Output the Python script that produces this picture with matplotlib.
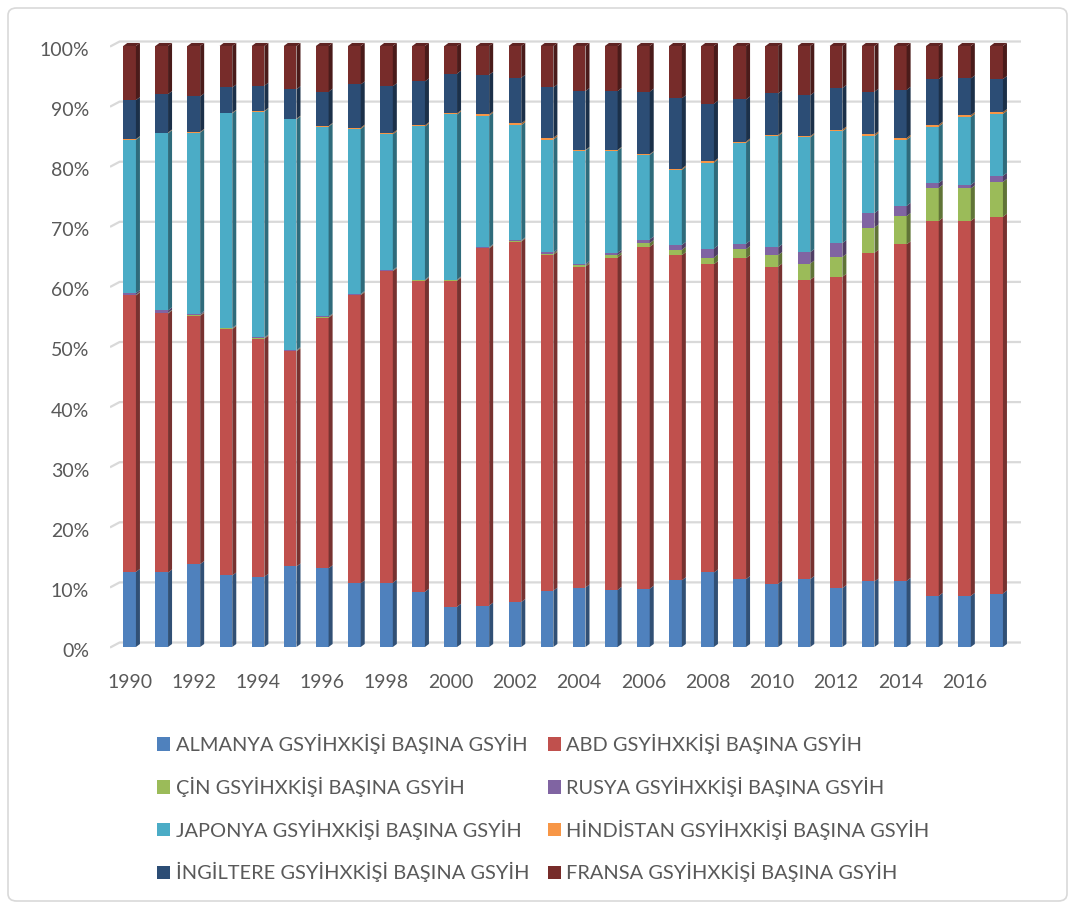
import matplotlib.pyplot as plt
import numpy as np
from matplotlib.patches import Polygon, Patch, FancyBboxPatch
from matplotlib.colors import to_rgb
from matplotlib.transforms import ScaledTranslation

plt.rcParams['font.family'] = ['Lato', 'DejaVu Sans']

years = list(range(1990, 2018))

almanya = [12.5, 12.4, 13.8, 11.9, 11.7, 13.4, 13.1, 10.6, 10.7, 9.2, 6.7, 6.9, 7.5, 9.4,
           9.9, 9.5, 9.7, 11.1, 12.4, 11.3, 10.5, 11.3, 9.8, 10.9, 11.0, 8.5, 8.5, 8.9]
abd = [46.0, 43.1, 41.3, 41.0, 39.6, 35.8, 41.7, 48.0, 51.9, 51.8, 54.3, 59.5, 60.1, 56.0,
       53.4, 55.3, 56.9, 54.1, 51.3, 53.4, 52.8, 49.8, 51.8, 54.7, 56.0, 62.4, 62.4, 62.7]
cin = [0.1, 0.1, 0.1, 0.1, 0.1, 0.1, 0.1, 0.1, 0.1, 0.1, 0.1, 0.1, 0.1, 0.2,
       0.2, 0.4, 0.6, 0.9, 1.1, 1.5, 1.9, 2.7, 3.3, 4.2, 4.7, 5.5, 5.4, 5.8]
rusya = [0.3, 0.4, 0.2, 0.1, 0.1, 0.1, 0.1, 0.1, 0.1, 0.1, 0.1, 0.1, 0.1, 0.2,
         0.2, 0.4, 0.6, 0.8, 1.5, 0.9, 1.3, 1.9, 2.3, 2.4, 1.7, 0.8, 0.6, 1.0]
japonya = [25.5, 29.5, 30.2, 35.7, 37.6, 38.4, 31.6, 27.5, 22.6, 25.5, 27.5, 21.9, 19.2, 18.8,
           18.9, 17.0, 14.1, 12.5, 14.3, 16.8, 18.5, 19.1, 18.6, 12.8, 11.0, 9.4, 11.3, 10.3]
hindistan = [0.1, 0.1, 0.1, 0.1, 0.1, 0.1, 0.1, 0.2, 0.2, 0.2, 0.2, 0.2, 0.3, 0.3,
             0.1, 0.1, 0.1, 0.2, 0.2, 0.2, 0.2, 0.2, 0.3, 0.3, 0.3, 0.3, 0.3, 0.3]
ingiltere = [6.5, 6.4, 5.9, 4.2, 4.2, 4.9, 5.7, 7.2, 7.8, 7.3, 6.6, 6.6, 7.6, 8.4,
             9.8, 9.8, 10.4, 11.7, 9.6, 7.0, 6.9, 6.8, 6.9, 7.1, 8.0, 7.6, 6.1, 5.5]
fransa = [9.0, 8.0, 8.4, 6.9, 6.6, 7.2, 7.6, 6.4, 6.7, 5.9, 4.6, 4.8, 5.3, 6.9,
          7.5, 7.5, 7.6, 8.7, 9.6, 8.9, 7.9, 8.2, 7.0, 7.6, 7.3, 5.5, 5.4, 5.5]

series = [almanya, abd, cin, rusya, japonya, hindistan, ingiltere, fransa]
labels = ['ALMANYA GSYİHXKİŞİ BAŞINA GSYİH', 'ABD GSYİHXKİŞİ BAŞINA GSYİH',
          'ÇİN GSYİHXKİŞİ BAŞINA GSYİH', 'RUSYA GSYİHXKİŞİ BAŞINA GSYİH',
          'JAPONYA GSYİHXKİŞİ BAŞINA GSYİH', 'HİNDİSTAN GSYİHXKİŞİ BAŞINA GSYİH',
          'İNGİLTERE GSYİHXKİŞİ BAŞINA GSYİH', 'FRANSA GSYİHXKİŞİ BAŞINA GSYİH']
colors = ['#4F81BD', '#C0504D', '#9BBB59', '#8064A2', '#4BACC6', '#F79646', '#2C4D75', '#772C2A']

W, H = 1075, 909
fig = plt.figure(figsize=(W / 100, H / 100), dpi=100)
ax = fig.add_axes([110 / W, 1 - 655 / H, (1021 - 110) / W, (655 - 35) / H])

x = np.arange(len(years))
xl, xr = -0.61, 27.76
ax.set_xlim(xl, xr)
ax.set_ylim(-8 / 6.01, 100 + 11 / 6.01)

# back wall gridlines
gdy = 0.75
for v in range(0, 101, 10):
    ax.plot([xl, xl + 0.3, xr], [v - 0.1, v + gdy, v + gdy], color='#D9D9D9', lw=1.6, zorder=1,
            solid_capstyle='butt')

w, dx, dy = 0.395, 0.125, 0.5
data = np.array(series)
cum = np.vstack([np.zeros(len(years)), np.cumsum(data, axis=0)])
total = cum[-1]
for i, vals in enumerate(series):
    c = np.array(to_rgb(colors[i]))
    bottom = cum[i] / total * 100
    top = cum[i + 1] / total * 100
    ax.bar(x, top - bottom, w, bottom=bottom, color=colors[i], zorder=3, linewidth=0)
    for xi, b, t in zip(x, bottom, top):
        r = xi + w / 2
        ax.add_patch(Polygon([(r, b), (r + dx, b + dy), (r + dx, t + dy), (r, t)],
                             closed=True, facecolor=c * 0.62, edgecolor='none', zorder=3))
        if i == len(series) - 1:
            ax.add_patch(Polygon([(xi - w / 2, t), (xi - w / 2 + dx, t + dy), (r + dx, t + dy), (r, t)],
                                 closed=True, facecolor=c * 0.8, edgecolor='none', zorder=3))

for s in ax.spines.values():
    s.set_visible(False)
ax.tick_params(length=0, colors='#595959', labelsize=14)
ax.set_yticks(range(0, 101, 10))
ax.set_yticklabels([f'{v}%' for v in range(0, 101, 10)])
ax.tick_params(axis='y', pad=15)
ax.tick_params(axis='x', pad=14)
ax.set_xticks(x[::2])
ax.set_xticklabels([str(y) for y in years[::2]])
shift = ScaledTranslation(0, -3 / 100, fig.dpi_scale_trans)
for lab in ax.get_yticklabels():
    lab.set_transform(lab.get_transform() + shift)

order = [0, 2, 4, 6, 1, 3, 5, 7]
handles = [Patch(facecolor=colors[k], edgecolor='none') for k in order]
fig.legend(handles, [labels[k] for k in order], ncol=2, loc='upper left',
           bbox_to_anchor=(139 / W, 1 - 716 / H), frameon=False, fontsize=14.4,
           handlelength=0.65, handleheight=0.65, handletextpad=0.3, columnspacing=0.9,
           labelspacing=1.13, labelcolor='#595959')

fig.patches.append(FancyBboxPatch((8 / W, 8 / H), 1 - 16 / W, 1 - 16 / H,
                                  boxstyle='round,pad=0,rounding_size=0.008',
                                  transform=fig.transFigure, facecolor='none',
                                  edgecolor='#D9D9D9', lw=1.2))

fig.savefig('out.png', dpi=100)
